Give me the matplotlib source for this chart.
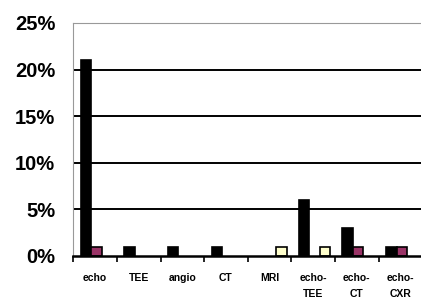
import numpy as np
import matplotlib
matplotlib.use('Agg')
import matplotlib.pyplot as plt
from matplotlib.ticker import FuncFormatter

# data (percent)
categories = ['echo', 'TEE', 'angio', 'CT', 'MRI', 'echo-\nTEE', 'echo-\nCT', 'echo-\nCXR']
black_vals = [21, 1, 1, 1, 0, 6, 3, 1]
purple_vals = [1, 0, 0, 0, 0, 0, 1, 1]
yellow_vals = [0, 0, 0, 0, 1, 1, 0, 0]

plt.rcParams['font.family'] = ['Liberation Sans', 'DejaVu Sans']
plt.rcParams['font.weight'] = 'bold'

fig = plt.figure(figsize=(4.21, 2.98), dpi=100)
ax = fig.add_axes([0.174, 0.141, 0.829, 0.782])

x = np.arange(len(categories))
w = 0.24
for vals, col, off in [(black_vals, '#000000', -w),
                       (purple_vals, '#993366', 0),
                       (yellow_vals, '#FFFFCC', w)]:
    v = np.array(vals, dtype=float)
    mask = v > 0
    ax.bar(x[mask] + off + 0.03, v[mask], width=w, color=col,
           edgecolor='black', linewidth=1.2, zorder=3)

ax.set_xlim(-0.5, len(categories) - 0.5)
ax.set_ylim(0, 25)
ax.set_yticks([0, 5, 10, 15, 20, 25])
ax.yaxis.set_major_formatter(FuncFormatter(lambda v, p: '%d%%' % v))
ax.tick_params(axis='y', length=0, labelsize=14.5, pad=13)

# grid lines
for yv in [5, 10, 15, 20]:
    ax.axhline(yv, color='black', linewidth=1.4, zorder=1)

ax.set_xticks(x)
ax.set_xticklabels(categories, fontsize=7.5, linespacing=1.75, va='top')
ax.tick_params(axis='x', length=0, pad=12.5)
ax.set_xticks(np.arange(-0.5, len(categories) + 0.5, 1), minor=True)
ax.tick_params(axis='x', which='minor', length=4, width=1.2, direction='out')

ax.spines['bottom'].set_linewidth(1.8)
ax.spines['bottom'].set_zorder(4)
ax.spines['left'].set_color('#999999')
ax.spines['top'].set_color('#999999')
ax.spines['right'].set_visible(False)

fig.savefig('out.png', dpi=100)
